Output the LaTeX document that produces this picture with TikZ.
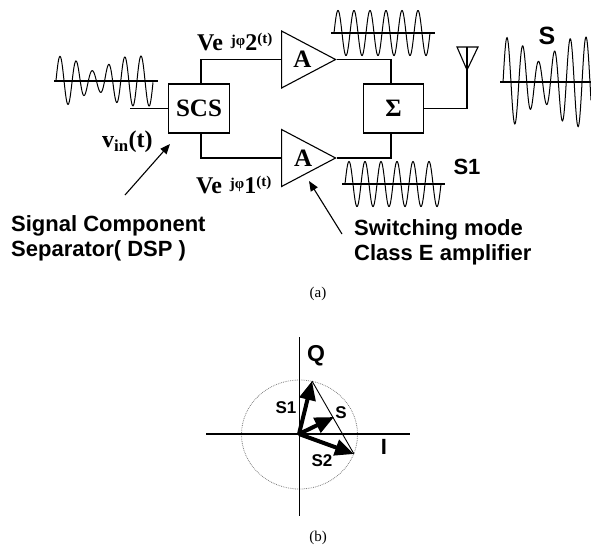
\documentclass[tikz,border=0pt]{standalone}
\usepackage{fontspec}
\setmainfont{Liberation Serif}
\setsansfont{Liberation Sans}
\usetikzlibrary{arrows.meta,calc,shapes.geometric}
\def\carrier(#1:#2:#3)(#4:#5:#6:#7)(#8:#9){\draw[line width=1.2pt] (#1, #3) -- (#2, #3);
	\draw[line width=1pt] plot[domain=#4-#5/4:#6, samples=220] (\x, {#3-#7*(1-#8*exp(-pow((\x-#9)/18,2)))*cos(360*mod((\x-#4)/#5,1))});}
\def\phase#1{Ve\,\,\raisebox{5pt}{\fontsize{15}{15}\selectfont jφ}#1\raisebox{7pt}{\fontsize{15}{15}\selectfont (t)}}
\tikzset{
	blockbox/.style={draw, line width=1.1pt, minimum width=60.5pt, minimum height=49pt, inner sep=0pt, font=\fontsize{25}{25}\selectfont\bfseries},
	ampbox/.style={draw, line width=1.1pt, isosceles triangle, isosceles triangle stretches, shape border rotate=0, minimum width=57pt, minimum height=54pt, inner sep=0pt, anchor=apex, font=\fontsize{25}{25}\selectfont\bfseries},
	wire/.style={line width=1.1pt},
	phasor/.style={line width=4pt, -{Triangle[length=19pt,width=16pt]}},
	callout/.style={line width=1.1pt, -{Triangle[length=10pt,width=8pt]}},
	seriflabel/.style={inner sep=0pt, font=\fontsize{24}{24}\selectfont\bfseries},
	sanslabel/.style={inner sep=0pt, align=left, font=\fontsize{22}{25}\selectfont\sffamily\bfseries},
	sanssmall/.style={inner sep=0pt, font=\fontsize{17}{17}\selectfont\sffamily\bfseries},
	caption/.style={inner sep=0pt, font=\fontsize{15}{15}\selectfont}
}
\begin{document}
\begin{tikzpicture}[x=1pt, y=-1pt]
		%%%%% START %%%%%
		\useasboundingbox (0, 0) rectangle (591, 550);
		
		\node[blockbox] (scs) at (199, 108.5) {SCS};
		\node[blockbox] (sum) at (393.5, 108.5) {Σ};
		\node[ampbox] (ampa) at (337, 59.5) {\hspace*{8pt}A};
		\node[ampbox] (ampb) at (337, 158) {\hspace*{9pt}A};
		
		\coordinate (vin) at (130, 108.5);
		\draw[wire] (vin) -- (scs.west);
		\draw[wire] ([xshift=2pt]scs.north) |- (ampa.lower side);
		\draw[wire] ([xshift=2pt]scs.south) |- (ampb.lower side);
		\draw[wire] (ampa.apex) -| ([xshift=-2.5pt]sum.north);
		\draw[wire] (ampb.apex) -| ([xshift=-2.5pt]sum.south);
		
		\coordinate (mast) at (467, 47);
		\draw[wire] (sum.east) -| (mast);
		\draw[wire] (457, 47) -- (478, 47) -- (467, 70) -- cycle;
		
		\carrier(54:158:81)(60:16.2:153:25)(0.6:95)
		\carrier(331:435:33)(338:16:430:22.5)(0:380)
		\carrier(342:445:184)(349:16:441:22.5)(0:390)
		\carrier(500:591:82)(507:15.8:591:45)(0.55:541)
		
		\node[seriflabel, anchor=west] (vea) at (197, 42) {\phase{2}};
		\node[seriflabel, anchor=west] (veb) at (196, 185) {\phase{1}};
		\node[seriflabel, anchor=west] (vint) at (102, 142) {v\textsubscript{in}(t)};
		\node[sanslabel, font=\fontsize{25}{25}\selectfont\sffamily\bfseries] (sout) at (547, 36) {S};
		\node[sanslabel] (sone) at (467, 167) {S1};
		
		\node[sanslabel, anchor=north west] (dsp) at (11, 215) {Signal Component\\Separator( DSP )};
		\node[sanslabel, anchor=north west] (class) at (354, 219) {Switching mode\\Class E amplifier};
		\coordinate (dsptail) at (125, 195);
		\coordinate (dsphead) at (170, 144);
		\coordinate (classtail) at (342, 234);
		\coordinate (classhead) at (309, 181);
		\draw[callout] (dsptail) -- (dsphead);
		\draw[callout] (classtail) -- (classhead);
		
		\node[caption] (capa) at (318, 294) {(a)};
		
		%%%%% polar plot
		\coordinate (o) at (299, 434);
		\draw[gray, line width=0.8pt, densely dotted] (299.5, 434.5) ellipse (58 and 54.5);
		\draw[line width=1.2pt] (206, 434) -- (410, 434);
		\draw[line width=1pt] (299, 337) -- (299, 516);
		
		\coordinate (sonetip) at (312, 381);
		\coordinate (stip) at (334, 417);
		\coordinate (stwotip) at (354, 454);
		\draw[line width=0.9pt] (sonetip) -- (stwotip);
		\draw[phasor] (o) -- (sonetip);
		\draw[phasor] (o) -- (stip);
		\draw[phasor] (o) -- (stwotip);
		
		\node[sanslabel, font=\fontsize{23}{23}\selectfont\sffamily\bfseries] (qlab) at (316, 356) {Q};
		\node[sanslabel] (ilab) at (384, 447) {I};
		\node[sanssmall] (sonelab) at (286, 408) {S1};
		\node[sanssmall] (slab) at (341, 413) {S};
		\node[sanssmall] (stwolab) at (322, 461) {S2};
		
		\node[caption] (capb) at (318, 538) {(b)};
		%%%%% END %%%%%
	\end{tikzpicture}
\end{document}
